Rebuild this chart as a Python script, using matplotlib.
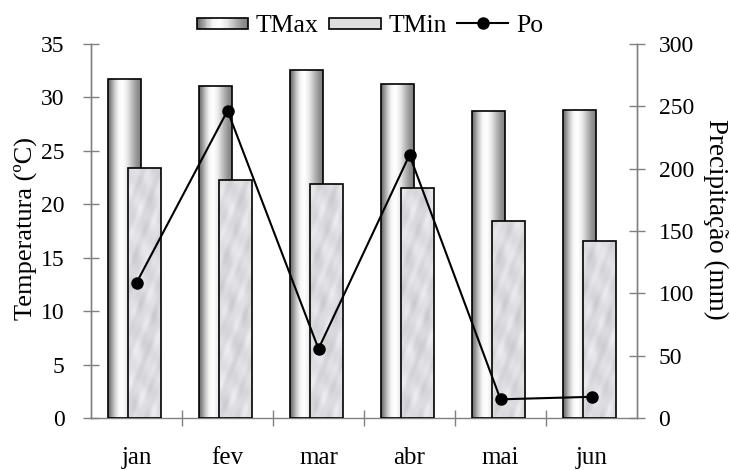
import numpy as np
import matplotlib
matplotlib.use("Agg")
import matplotlib.pyplot as plt
from matplotlib.patches import Rectangle
from matplotlib.legend_handler import HandlerBase
from matplotlib.lines import Line2D

plt.rcParams['font.family'] = ['Liberation Serif', 'DejaVu Serif']

months = ['jan', 'fev', 'mar', 'abr', 'mai', 'jun']
tmax = [31.7, 31.1, 32.6, 31.3, 28.7, 28.8]
tmin = [23.4, 22.3, 21.9, 21.5, 18.4, 16.6]
po = [108.5, 246.5, 55.5, 211.0, 15.0, 17.0]

FS = 17
GRAY = '#808080'

# horizontal shading of the cylinder-like TMax bars
grad_pos = [0.0, 0.08, 0.2, 0.32, 0.45, 0.6, 0.75, 0.88, 1.0]
grad_val = [0.42, 0.55, 0.8, 0.97, 1.0, 0.9, 0.72, 0.58, 0.5]
xs = np.linspace(0, 1, 60)
grad = np.interp(xs, grad_pos, grad_val)
grad_img = np.tile(grad, (2, 1))

# marble-like light texture for the TMin bars
yy, xx = np.mgrid[0:300, 0:40]
tex = (0.86
       + 0.025 * np.sin(xx * 0.31 + yy * 0.12)
       + 0.02 * np.sin(xx * 0.17 - yy * 0.21 + 1.3)
       + 0.015 * np.sin(yy * 0.05 + np.sin(xx * 0.2) * 2.0)
       + 0.012 * np.sin(xx * 0.6 + yy * 0.37))
tex = np.clip(tex, 0, 1)
tex_rgb = np.dstack([tex, tex, tex + 0.02]).clip(0, 1)

fig = plt.figure(figsize=(7.3, 4.7), dpi=100)
ax = fig.add_axes([0.1247, 0.1106, 0.7479, 0.7958])
ax2 = ax.twinx()

x = np.arange(len(months))
w = 0.36
off_max, off_min = -0.13, 0.09

bars_max = ax.bar(x + off_max, tmax, w, facecolor='none', edgecolor='black',
                  linewidth=1.2, zorder=3)
bars_min = ax.bar(x + off_min, tmin, w, facecolor='none', edgecolor='black',
                  linewidth=1.2, zorder=5)

for b in bars_max:
    x0 = b.get_x()
    im = ax.imshow(grad_img, cmap='gray', vmin=0, vmax=1, aspect='auto',
                   extent=[x0, x0 + b.get_width(), 0, 35], zorder=2,
                   interpolation='bilinear')
    im.set_clip_path(b)
for b in bars_min:
    x0 = b.get_x()
    im = ax.imshow(tex_rgb, aspect='auto', extent=[x0, x0 + b.get_width(), 0, 35],
                   zorder=4, interpolation='bilinear')
    im.set_clip_path(b)

ax.set_xlim(-0.5, 5.5)
ax.set_ylim(0, 35)
ax.set_yticks(np.arange(0, 36, 5))
ax.set_xticks(np.arange(0.5, 5.0, 1.0))
ax.set_xticklabels([])
ax.set_xticks(x, minor=True)
ax.set_xticklabels(months, minor=True)
ax.tick_params(axis='x', which='major', direction='inout', length=11, width=1, color=GRAY)
ax.tick_params(axis='x', which='minor', length=0, pad=21, labelsize=18)
ax.tick_params(axis='y', direction='inout', length=12, width=1, color=GRAY, labelsize=FS, pad=13)
ax.set_ylabel('Temperatura (ºC)', fontsize=19)
ax.yaxis.set_label_coords(-0.099, 0.508)

ax2.plot(x, po, color='black', linewidth=1.5, marker='o', markersize=8, zorder=10)
ax2.set_ylim(0, 300)
ax2.set_yticks(np.arange(0, 301, 50))
ax2.tick_params(axis='y', direction='inout', length=12, width=1, color=GRAY, labelsize=FS, pad=9.5)
ax2.set_ylabel('Precipitação (mm)', fontsize=19.5, rotation=-90, va='bottom')
ax2.yaxis.set_label_coords(1.121, 0.532)

for a in (ax, ax2):
    a.spines['top'].set_visible(False)
    for s in ('left', 'right', 'bottom'):
        a.spines[s].set_color(GRAY)
        a.spines[s].set_linewidth(1)
ax2.spines['bottom'].set_visible(False)


class GradientHandler(HandlerBase):
    def create_artists(self, legend, orig_handle, xdescent, ydescent, width,
                       height, fontsize, trans):
        h = height * 0.6
        y0 = -ydescent + (height - h) / 2
        arts = []
        n = len(grad)
        for i, v in enumerate(grad):
            arts.append(Rectangle((-xdescent + width * i / n, y0), width / n * 1.05, h,
                                  facecolor=str(v), edgecolor='none', transform=trans))
        arts.append(Rectangle((-xdescent, y0), width, h, fill=False,
                              edgecolor='black', linewidth=1.2, transform=trans))
        return arts


class FlatHandler(HandlerBase):
    def create_artists(self, legend, orig_handle, xdescent, ydescent, width,
                       height, fontsize, trans):
        h = height * 0.6
        y0 = -ydescent + (height - h) / 2
        return [Rectangle((-xdescent, y0), width, h, facecolor='#dfdfe2',
                          edgecolor='black', linewidth=1.2, transform=trans)]


h_max = Rectangle((0, 0), 1, 1)
h_min = Rectangle((0, 0), 1, 1)
h_po = Line2D([], [], color='black', linewidth=1.5, marker='o', markersize=8)
fig.legend([h_max, h_min, h_po], ['TMax', 'TMin', 'Po'], loc='center',
           bbox_to_anchor=(0.507, 0.945), ncol=3, frameon=False, fontsize=18.5,
           handlelength=2.0, handletextpad=0.3, columnspacing=0.4,
           handler_map={h_max: GradientHandler(), h_min: FlatHandler()})

fig.savefig('out.png', dpi=100)
